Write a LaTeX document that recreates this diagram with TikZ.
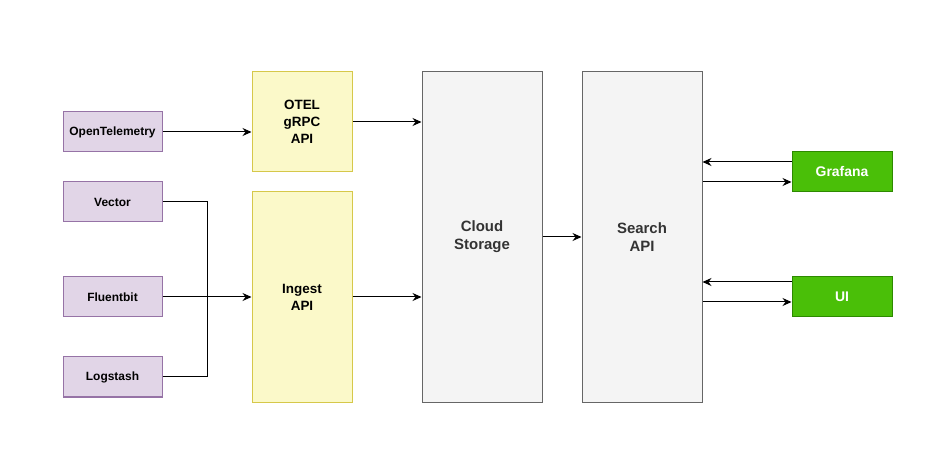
\documentclass[tikz,border=0pt]{standalone}
\usepackage{fontspec}
\setmainfont{Liberation Sans}
\usetikzlibrary{arrows.meta}
\definecolor{srcfill}{HTML}{E1D5E7}
\definecolor{srcline}{HTML}{9673A6}
\definecolor{apifill}{HTML}{FBF9C9}
\definecolor{apiline}{HTML}{D6C84A}
\definecolor{boxfill}{HTML}{F4F4F4}
\definecolor{boxline}{HTML}{666666}
\definecolor{boxtext}{HTML}{333333}
\definecolor{uifill}{HTML}{4ABF08}
\definecolor{uiline}{HTML}{2D8A00}
\tikzset{
  source/.style={draw=srcline,fill=srcfill,line width=1bp,minimum width=99bp,minimum height=40bp,inner sep=0pt,font=\fontsize{12}{14}\selectfont\bfseries},
  api/.style={draw=apiline,fill=apifill,line width=1bp,minimum width=100bp,inner sep=0pt,align=center,font=\fontsize{13.5}{17}\selectfont\bfseries},
  store/.style={draw=boxline,fill=boxfill,line width=1bp,minimum width=120bp,minimum height=330bp,inner sep=0pt,align=center,text=boxtext,font=\fontsize{15}{18}\selectfont\bfseries},
  client/.style={draw=uiline,fill=uifill,line width=1bp,minimum width=100bp,minimum height=40bp,inner sep=0pt,text=white,font=\fontsize{14}{16}\selectfont\bfseries},
  flow/.style={-{Stealth[length=9bp,width=8bp,inset=3bp]},line width=1bp,black},
  wire/.style={line width=1bp,black},
}
\begin{document}
\begin{tikzpicture}[x=1bp,y=-1bp]
\useasboundingbox (0,0) rectangle (935,452);
  % Node: sources
  \node[source] (otel) at (112.5,132) {OpenTelemetry};
  \node[source] (vector) at (112.5,202) {Vector};
  \node[source] (fluentbit) at (112.5,297) {Fluentbit};
  \node[source] (logstash) at (112.5,377) {Logstash};
  % Node: APIs
  \node[api,minimum height=100bp] (grpc) at (302,122) {OTEL\\gRPC\\API};
  \node[api,minimum height=210bp] (ingest) at (302,297) {Ingest\\API};
  % Node: Cloud Storage, Search API
  \node[store] (storage) at (482,237) {Cloud\\Storage};
  \node[store] (search) at (642,237) {Search\\API};
  % Node: clients
  \node[client] (grafana) at (842,172) {Grafana};
  \node[client] (ui) at (842,297) {UI};
  \coordinate (merge) at (207,297);
  % Edge: OpenTelemetry -> OTEL gRPC API
  \draw[flow] (otel.east) -- (otel.east -| grpc.west);
  % Edge: Vector, Fluentbit, Logstash -> Ingest API
  \draw[wire] (vector.east) -| (merge);
  \draw[wire] (logstash.east) -| (merge);
  \draw[flow] (fluentbit.east) -- (ingest.west);
  % Edge: APIs -> Cloud Storage
  \draw[flow] (grpc.east) -- (grpc.east -| storage.west);
  \draw[flow] (ingest.east) -- (ingest.east -| storage.west);
  % Edge: Cloud Storage -> Search API
  \draw[flow] (storage.east) -- (search.west);
  % Edge: Search API <-> Grafana, UI
  \draw[flow] ([yshift=10bp]grafana.west) -- ([yshift=10bp]grafana.west -| search.east);
  \draw[flow] ([yshift=-10bp]grafana.west -| search.east) -- ([yshift=-10bp]grafana.west);
  \draw[flow] ([yshift=15bp]ui.west) -- ([yshift=15bp]ui.west -| search.east);
  \draw[flow] ([yshift=-5bp]ui.west -| search.east) -- ([yshift=-5bp]ui.west);
\end{tikzpicture}
\end{document}
